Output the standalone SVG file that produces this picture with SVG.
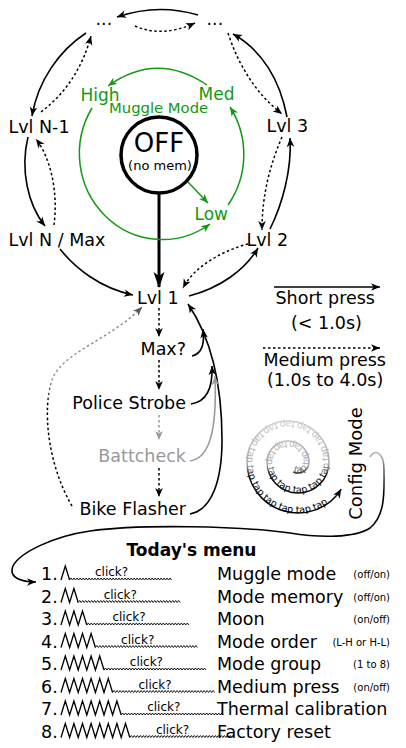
<svg xmlns="http://www.w3.org/2000/svg" width="406" height="748" viewBox="0 0 406 748">
<defs>
<style>
text{font-family:"DejaVu Sans","Liberation Sans",sans-serif;fill:#000}
.lbl{font-size:17.5px}
.gt{fill:#119911;font-size:17px}
.c{fill:none;stroke:#000;stroke-width:1.6}
.d{fill:none;stroke:#000;stroke-width:1.5;stroke-dasharray:2.5,2.5}
.gc{fill:none;stroke:#119911;stroke-width:1.5}
.pk{fill:none;stroke:#000;stroke-width:1.3;stroke-linejoin:miter}
.wv{fill:none;stroke:#000;stroke-width:0.9}
.small{font-size:10px}
.click{font-size:12px}
.tap{font-size:9.5px}
</style>
<marker id="ah" viewBox="-10 -5 11 10" refX="0" refY="0" markerWidth="11" markerHeight="10" orient="auto" markerUnits="userSpaceOnUse"><path d="M0,0L-9,-3.8L-6.5,0L-9,3.8Z" fill="#000"/></marker>
<marker id="ahg" viewBox="-10 -5 11 10" refX="0" refY="0" markerWidth="11" markerHeight="10" orient="auto" markerUnits="userSpaceOnUse"><path d="M0,0L-9,-3.8L-6.5,0L-9,3.8Z" fill="#999"/></marker>
<marker id="ahd" viewBox="-10 -5 11 10" refX="0" refY="0" markerWidth="11" markerHeight="10" orient="auto" markerUnits="userSpaceOnUse"><path d="M0,0L-9,-3.8L-6.5,0L-9,3.8Z" fill="#555"/></marker>
<marker id="ahgr" viewBox="-10 -5 11 10" refX="0" refY="0" markerWidth="11" markerHeight="10" orient="auto" markerUnits="userSpaceOnUse"><path d="M0,0L-9,-3.8L-6.5,0L-9,3.8Z" fill="#119911"/></marker>
<marker id="ahb" viewBox="-18 -8 19 16" refX="0" refY="0" markerWidth="19" markerHeight="16" orient="auto" markerUnits="userSpaceOnUse"><path d="M1,0L-15,-5.5L-11,0L-15,5.5Z" fill="#000"/></marker>
<linearGradient id="sg" gradientUnits="userSpaceOnUse" x1="0" y1="418" x2="0" y2="515"><stop offset="0" stop-color="#d0d0d0"/><stop offset="0.48" stop-color="#a8a8a8"/><stop offset="0.6" stop-color="#111"/><stop offset="1" stop-color="#000"/></linearGradient>
<linearGradient id="cg" gradientUnits="userSpaceOnUse" x1="0" y1="450" x2="0" y2="495"><stop offset="0" stop-color="#c0c0c0"/><stop offset="1" stop-color="#000"/></linearGradient>
<linearGradient id="lg" gradientUnits="userSpaceOnUse" x1="0" y1="505" x2="0" y2="305"><stop offset="0" stop-color="#000"/><stop offset="0.5" stop-color="#000"/><stop offset="0.62" stop-color="#999"/><stop offset="1" stop-color="#888"/></linearGradient>
<path id="wave" d="M0,0l1.5-2 1.5 2 1.5-2 1.5 2 1.5-2 1.5 2 1.5-2 1.5 2 1.5-2 1.5 2 1.5-2 1.5 2 1.5-2 1.5 2 1.5-2 1.5 2 1.5-2 1.5 2 1.5-2 1.5 2 1.5-2 1.5 2 1.5-2 1.5 2 1.5-2 1.5 2 1.5-2 1.5 2 1.5-2 1.5 2 1.5-2 1.5 2 1.5-2 1.5 2 1.5-2 1.5 2 1.5-2 1.5 2 1.5-2 1.5 2 1.5-2 1.5 2 1.5-2 1.5 2 1.5-2 1.5 2 1.5-2 1.5 2 1.5-2 1.5 2 1.5-2 1.5 2 1.5-2 1.5 2 1.5-2 1.5 2 1.5-2 1.5 2 1.5-2 1.5 2 1.5-2 1.5 2 1.5-2 1.5 2 1.5-2 1.5 2 1.5-2 1.5 2"/>
<path id="spiral" d="M293.35,471.97A11,11 0 0 0 309,462A21,21 0 0 0 267,462A31,31 0 0 0 329,462A41,41 0 0 0 247,462A51,51 0 0 0 341.25,489.03"/>
</defs>
<rect width="406" height="748" fill="#fff"/>

<g id="connectors">
<path class="c" d="M198,15Q158,3 117,17" marker-end="url(#ah)"/>
<path class="d" d="M135,26Q162,38 195,23" marker-end="url(#ah)"/>
<path class="c" d="M86,33C60,50 38,80 32,116" marker-end="url(#ah)"/>
<path class="d" d="M41,112Q78,84 91,36" marker-end="url(#ah)"/>
<path class="c" d="M28,137C20,170 28,205 45,226" marker-end="url(#ah)"/>
<path class="d" d="M54,225C58,195 52,160 36,139" marker-end="url(#ah)"/>
<path class="c" d="M60,249C75,268 100,288 133,295" marker-end="url(#ah)"/>
<path class="d" d="M228,33Q245,85 282,114" marker-end="url(#ah)"/>
<path class="c" d="M287,117C280,80 262,50 233,34" marker-end="url(#ah)"/>
<path class="d" d="M282,137C270,165 262,195 262,230" marker-end="url(#ah)"/>
<path class="c" d="M270,229C282,205 292,170 290,138" marker-end="url(#ah)"/>
<path class="c" d="M189,296C220,288 245,270 258,248" marker-end="url(#ah)"/>
<path class="d" d="M248,244C225,250 195,265 183,288" marker-end="url(#ah)"/>
<path d="M159,193L159,287" fill="none" stroke="#000" stroke-width="3" marker-end="url(#ahb)"/>
<path class="gc" d="M207,85Q157,51 108,86" marker-end="url(#ahgr)"/>
<path class="gc" d="M92,108A83,86 0 0 0 210,224" marker-end="url(#ahgr)"/>
<path class="gc" d="M228,205A83,86 0 0 0 230,107" marker-end="url(#ahgr)"/>
<path class="gc" d="M187,181L208,203" marker-end="url(#ahgr)"/>
<path class="d" d="M159,308L159,337" marker-end="url(#ah)"/>
<path class="d" d="M159,360L159,390" marker-end="url(#ah)"/>
<path class="d" d="M159,415L159,440" style="stroke:#999" marker-end="url(#ahg)"/>
<path class="d" d="M159,468L159,497" marker-end="url(#ah)"/>
<path class="c" d="M190,514C212,510 222,480 222,440C222,400 216,345 188,304" marker-end="url(#ah)"/>
<path class="c" d="M190,461C210,458 217,430 215,376" style="stroke:#999" marker-end="url(#ahg)"/>
<path class="c" d="M191,404C205,402 213,390 212,366" marker-end="url(#ah)"/>
<path class="c" d="M192,356C201,354 205,345 203,329" marker-end="url(#ah)"/>
<path class="d" d="M72,506C48,465 42,410 52,380C62,352 110,340 142,307" style="stroke:url(#lg)" marker-end="url(#ahd)"/>
<path class="c" d="M274,287L380,287" marker-end="url(#ah)"/>
<path class="d" d="M263,348L380,348" marker-end="url(#ah)"/>
<path d="M370,457C374,449 384,451 384,470C384,490 386,515 370,528C355,538 320,538 290,533C240,526 140,524 90,531C55,536 20,552 13,566C8,578 22,582 36,582" fill="none" stroke="url(#cg)" stroke-width="1.6" marker-end="url(#ah)"/>
</g>

<g id="dots-left"><text class="lbl" x="95.5" y="25">...</text></g>
<g id="dots-right"><text class="lbl" x="206.5" y="25">...</text></g>
<g id="lvl-n-1"><text class="lbl" x="8.5" y="133">Lvl N-1</text></g>
<g id="lvl-n"><text class="lbl" x="8.5" y="246">Lvl N / Max</text></g>
<g id="lvl-3"><text class="lbl" x="266.5" y="132">Lvl 3</text></g>
<g id="lvl-2"><text class="lbl" x="246.5" y="246">Lvl 2</text></g>
<g id="lvl-1"><text class="lbl" x="137" y="304">Lvl 1</text></g>

<g id="off">
<circle cx="159" cy="155" r="38" fill="#fff" stroke="#000" stroke-width="3.5"/>
<text x="159" y="152" font-size="26" text-anchor="middle">OFF</text>
<text x="160" y="170" font-size="13" text-anchor="middle">(no mem)</text>
</g>
<g id="muggle">
<text class="gt" x="80.5" y="101">High</text>
<text class="gt" x="198.5" y="100">Med</text>
<text class="gt" x="194.5" y="220">Low</text>
<text x="109" y="113" font-size="14.8" style="fill:#119911">Muggle Mode</text>
</g>

<g id="max"><text class="lbl" x="186" y="355" text-anchor="end">Max?</text></g>
<g id="police"><text class="lbl" x="186" y="409" text-anchor="end">Police Strobe</text></g>
<g id="battcheck"><text class="lbl" x="186" y="462" text-anchor="end" style="fill:#999">Battcheck</text></g>
<g id="bike"><text class="lbl" x="186" y="515" text-anchor="end">Bike Flasher</text></g>

<g id="legend">
<text class="lbl" x="275.5" y="304">Short press</text>
<text class="lbl" x="291" y="329">(&lt; 1.0s)</text>
<text class="lbl" x="263.5" y="366">Medium press</text>
<text class="lbl" x="267" y="385.5">(1.0s to 4.0s)</text>
</g>

<g id="config">
<path d="M293.35,471.97A11,11 0 0 0 309,462A21,21 0 0 0 267,462A31,31 0 0 0 329,462A41,41 0 0 0 247,462A51,51 0 0 0 341.25,489.03" fill="none" stroke="url(#sg)" stroke-width="1.5" marker-end="url(#ah)"/>
<text class="tap" style="fill:url(#sg)"><textPath href="#spiral">tap tap tap tap tap tap tap tap tap tap tap tap tap tap tap tap tap tap tap tap tap tap tap</textPath></text>
<text font-size="18" text-anchor="middle" transform="translate(361.5,463.5) rotate(-90)">Config Mode</text>
</g>

<g id="menu">
<text x="191.5" y="556" font-size="17" font-weight="bold" text-anchor="middle">Today's menu</text>
<g id="row1">
<text class="lbl" x="41" y="580">1.</text>
<path class="pk" d="M61,580l4.3-14 4.3,14"/>
<use href="#wave" class="wv" x="69.6" y="580"/>
<text class="click" x="95" y="576">click?</text>
<text class="lbl" x="217" y="580">Muggle mode</text>
<text class="small" x="390" y="578" text-anchor="end">(off/on)</text>
</g>
<g id="row2">
<text class="lbl" x="41" y="602.5">2.</text>
<path class="pk" d="M61,602.5l4.3-14 4.3,14 4.3-14 4.3,14"/>
<use href="#wave" class="wv" x="78.2" y="602.5"/>
<text class="click" x="103.7" y="598.5">click?</text>
<text class="lbl" x="217" y="602.5">Mode memory</text>
<text class="small" x="390" y="600.5" text-anchor="end">(off/on)</text>
</g>
<g id="row3">
<text class="lbl" x="41" y="625">3.</text>
<path class="pk" d="M61,625l4.3-14 4.3,14 4.3-14 4.3,14 4.3-14 4.3,14"/>
<use href="#wave" class="wv" x="86.8" y="625"/>
<text class="click" x="112.4" y="621">click?</text>
<text class="lbl" x="217" y="625">Moon</text>
<text class="small" x="390" y="623" text-anchor="end">(on/off)</text>
</g>
<g id="row4">
<text class="lbl" x="41" y="647.5">4.</text>
<path class="pk" d="M61,647.5l4.3-14 4.3,14 4.3-14 4.3,14 4.3-14 4.3,14 4.3-14 4.3,14"/>
<use href="#wave" class="wv" x="95.4" y="647.5"/>
<text class="click" x="121.1" y="643.5">click?</text>
<text class="lbl" x="217" y="647.5">Mode order</text>
<text class="small" x="390" y="645.5" text-anchor="end">(L-H or H-L)</text>
</g>
<g id="row5">
<text class="lbl" x="41" y="670">5.</text>
<path class="pk" d="M61,670l4.3-14 4.3,14 4.3-14 4.3,14 4.3-14 4.3,14 4.3-14 4.3,14 4.3-14 4.3,14"/>
<use href="#wave" class="wv" x="104" y="670"/>
<text class="click" x="129.8" y="666">click?</text>
<text class="lbl" x="217" y="670">Mode group</text>
<text class="small" x="390" y="668" text-anchor="end">(1 to 8)</text>
</g>
<g id="row6">
<text class="lbl" x="41" y="692.5">6.</text>
<path class="pk" d="M61,692.5l4.3-14 4.3,14 4.3-14 4.3,14 4.3-14 4.3,14 4.3-14 4.3,14 4.3-14 4.3,14 4.3-14 4.3,14"/>
<use href="#wave" class="wv" x="112.6" y="692.5"/>
<text class="click" x="138.5" y="688.5">click?</text>
<text class="lbl" x="217" y="692.5">Medium press</text>
<text class="small" x="390" y="690.5" text-anchor="end">(on/off)</text>
</g>
<g id="row7">
<text class="lbl" x="41" y="715">7.</text>
<path class="pk" d="M61,715l4.3-14 4.3,14 4.3-14 4.3,14 4.3-14 4.3,14 4.3-14 4.3,14 4.3-14 4.3,14 4.3-14 4.3,14 4.3-14 4.3,14"/>
<use href="#wave" class="wv" x="121.2" y="715"/>
<text class="click" x="147.2" y="711">click?</text>
<text class="lbl" x="217" y="715">Thermal calibration</text>
</g>
<g id="row8">
<text class="lbl" x="41" y="737.5">8.</text>
<path class="pk" d="M61,737.5l4.3-14 4.3,14 4.3-14 4.3,14 4.3-14 4.3,14 4.3-14 4.3,14 4.3-14 4.3,14 4.3-14 4.3,14 4.3-14 4.3,14 4.3-14 4.3,14"/>
<use href="#wave" class="wv" x="129.8" y="737.5"/>
<text class="click" x="155.9" y="733.5">click?</text>
<text class="lbl" x="217" y="737.5">Factory reset</text>
</g>
</g>
</svg>
